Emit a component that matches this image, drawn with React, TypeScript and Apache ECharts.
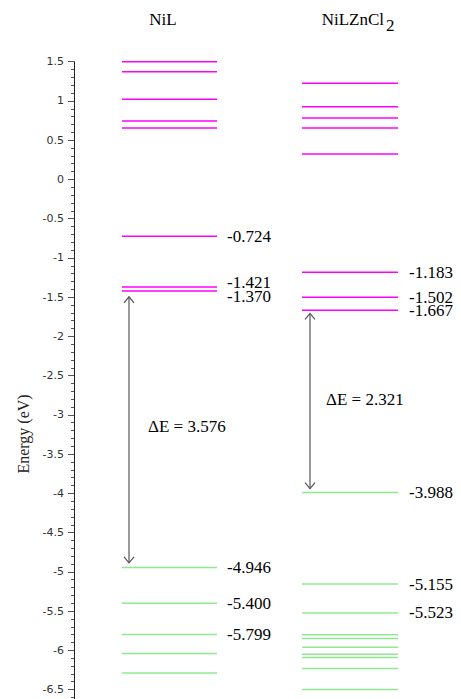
import React, { useEffect, useRef } from "react";
import * as echarts from "echarts";

// ---- data ----
const nilLumo = [1.5, 1.373, 1.02, 0.744, 0.655, -0.724, -1.37, -1.421];
const nilHomo = [-4.946, -5.4, -5.799, -6.04, -6.29];
const zncLumo = [1.225, 0.927, 0.782, 0.655, 0.324, -1.183, -1.502, -1.667];
const zncHomo = [-3.988, -5.155, -5.523, -5.8, -5.85, -5.96, -6.05, -6.09, -6.23, -6.5];

const nilLabelText = ["-0.724", "-1.421", "-1.370", "-4.946", "-5.400", "-5.799"];
const nilLabelPos = [-0.724, -1.31, -1.49, -4.946, -5.4, -5.799];
const zncLabelText = ["-1.183", "-1.502", "-1.667", "-3.988", "-5.155", "-5.523"];
const zncLabelPos = [-1.183, -1.502, -1.667, -3.988, -5.155, -5.523];

const nilArrow = [-1.495, -4.886];
const zncArrow = [-1.707, -3.94];
const deltaE = [3.576, 2.321];
const deltaEPos = [-3.152, -2.803];

const yTickLabels = ["1.5", "1", "0.5", "0", "-0.5", "-1", "-1.5", "-2", "-2.5", "-3", "-3.5", "-4", "-4.5", "-5", "-5.5", "-6", "-6.5"];

// ---- layout ----
const W = 461;
const H = 699;
const NIL_X = [122, 217];
const ZNC_X = [302, 398];
const NIL_LABEL_X = 227;
const ZNC_LABEL_X = 409;
const NIL_ARROW_X = 129;
const ZNC_ARROW_X = 310;
const NIL_DE_X = 148;
const ZNC_DE_X = 326;
const Y_MIN = -6.62;
const Y_MAX = 1.5;

const SERIF = '"Liberation Serif", "Times New Roman", serif';
const MAGENTA = "#ff00ff";
const GREEN = "#92e892";

function levelSeries(values: number[], xr: number[], color: string) {
  return {
    type: "custom",
    coordinateSystem: "cartesian2d",
    silent: true,
    clip: false,
    data: values.map((v) => [xr[0], xr[1], v]),
    encode: { x: [0, 1], y: 2 },
    renderItem: (_p: any, api: any) => {
      const a = api.coord([api.value(0), api.value(2)]);
      const b = api.coord([api.value(1), api.value(2)]);
      return {
        type: "line",
        shape: { x1: a[0], y1: a[1], x2: b[0], y2: b[1] },
        style: { stroke: color, lineWidth: 1.5 },
      };
    },
  };
}

function labelSeries(texts: string[], pos: number[], x: number) {
  return {
    type: "custom",
    coordinateSystem: "cartesian2d",
    silent: true,
    clip: false,
    data: pos.map((p) => [x, p]),
    encode: { x: 0, y: 1 },
    renderItem: (params: any, api: any) => {
      const c = api.coord([api.value(0), api.value(1)]);
      return {
        type: "text",
        x: c[0],
        y: c[1],
        style: {
          text: texts[params.dataIndex],
          fill: "#000",
          fontSize: 17,
          lineHeight: 13,
          fontFamily: SERIF,
          align: "left",
          verticalAlign: "middle",
        },
      };
    },
  };
}

function arrowSeries() {
  const arrows = [
    [NIL_ARROW_X, nilArrow[0], nilArrow[1]],
    [ZNC_ARROW_X, zncArrow[0], zncArrow[1]],
  ];
  return {
    type: "custom",
    coordinateSystem: "cartesian2d",
    silent: true,
    clip: false,
    data: arrows,
    encode: { x: 0, y: [1, 2] },
    renderItem: (_p: any, api: any) => {
      const t = api.coord([api.value(0), api.value(1)]);
      const b = api.coord([api.value(0), api.value(2)]);
      const hw = 5;
      const hl = 6;
      const st = { stroke: "#555", lineWidth: 1.2, fill: "none" };
      return {
        type: "group",
        children: [
          { type: "line", shape: { x1: t[0], y1: t[1], x2: b[0], y2: b[1] }, style: st },
          {
            type: "polyline",
            shape: { points: [[t[0] - hw, t[1] + hl], [t[0], t[1]], [t[0] + hw, t[1] + hl]] },
            style: st,
          },
          {
            type: "polyline",
            shape: { points: [[b[0] - hw, b[1] - hl], [b[0], b[1]], [b[0] + hw, b[1] - hl]] },
            style: st,
          },
        ],
      };
    },
  };
}

function deltaSeries() {
  const xs = [NIL_DE_X, ZNC_DE_X];
  return {
    type: "custom",
    coordinateSystem: "cartesian2d",
    silent: true,
    clip: false,
    data: deltaEPos.map((p, i) => [xs[i], p]),
    encode: { x: 0, y: 1 },
    renderItem: (params: any, api: any) => {
      const c = api.coord([api.value(0), api.value(1)]);
      return {
        type: "text",
        x: c[0],
        y: c[1],
        style: {
          text: "\u0394E = " + deltaE[params.dataIndex].toFixed(3),
          fill: "#000",
          fontSize: 17,
          fontFamily: SERIF,
          align: "left",
          verticalAlign: "middle",
        },
      };
    },
  };
}

export default function App() {
  const ref = useRef<HTMLDivElement>(null);
  useEffect(() => {
    document.body.style.margin = "0";
    if (!ref.current) return;
    const chart = echarts.init(ref.current, undefined, { renderer: "svg" });
    const majorVals = yTickLabels.map((s) => parseFloat(s));
    const minorVals: number[] = [];
    for (let i = -66; i <= 15; i++) minorVals.push(Math.round(i) / 10);

    chart.setOption({
      animation: false,
      backgroundColor: "#fff",
      grid: { left: 74, right: 0, top: 61.7, bottom: 0 },
      xAxis: { type: "value", min: 74, max: W, show: false },
      yAxis: [
        {
          type: "value",
          min: Y_MIN,
          max: Y_MAX,
          position: "left",
          axisLine: { show: true, lineStyle: { color: "#222", width: 1 } },
          axisTick: {
            show: true,
            length: 6,
            customValues: majorVals,
            lineStyle: { color: "#555" },
          },
          axisLabel: {
            show: true,
            customValues: majorVals,
            formatter: (v: number) => {
              const i = majorVals.findIndex((m) => Math.abs(m - v) < 1e-6);
              return i >= 0 ? yTickLabels[i] : "";
            },
            margin: 10,
            fontFamily: '"DejaVu Sans", sans-serif',
            fontSize: 11,
            color: "#333",
          },
          splitLine: { show: false },
        },
        {
          type: "value",
          min: Y_MIN,
          max: Y_MAX,
          position: "left",
          axisLine: { show: false },
          axisTick: {
            show: true,
            length: 3,
            customValues: minorVals,
            lineStyle: { color: "#555" },
          },
          axisLabel: { show: false },
          splitLine: { show: false },
        },
      ],
      graphic: [
        {
          type: "text",
          x: 163,
          y: 19,
          style: { text: "NiL", fontSize: 17, fontFamily: SERIF, fill: "#000", align: "center", verticalAlign: "middle" },
        },
        {
          type: "text",
          x: 384,
          y: 19,
          style: { text: "NiLZnCl", fontSize: 17, fontFamily: SERIF, fill: "#000", align: "right", verticalAlign: "middle" },
        },
        {
          type: "text",
          x: 386,
          y: 25,
          style: { text: "2", fontSize: 17, fontFamily: SERIF, fill: "#000", align: "left", verticalAlign: "middle" },
        },
        {
          type: "text",
          x: 23,
          y: 434,
          rotation: Math.PI / 2,
          style: { text: "Energy (eV)", fontSize: 16, fontFamily: SERIF, fill: "#222", align: "center", verticalAlign: "middle" },
        },
      ],
      series: [
        levelSeries(nilLumo, NIL_X, MAGENTA),
        levelSeries(nilHomo, NIL_X, GREEN),
        levelSeries(zncLumo, ZNC_X, MAGENTA),
        levelSeries(zncHomo, ZNC_X, GREEN),
        labelSeries(nilLabelText, nilLabelPos, NIL_LABEL_X),
        labelSeries(zncLabelText, zncLabelPos, ZNC_LABEL_X),
        arrowSeries(),
        deltaSeries(),
      ],
    });
    return () => chart.dispose();
  }, []);
  return <div ref={ref} style={{ width: W, height: H }} />;
}
